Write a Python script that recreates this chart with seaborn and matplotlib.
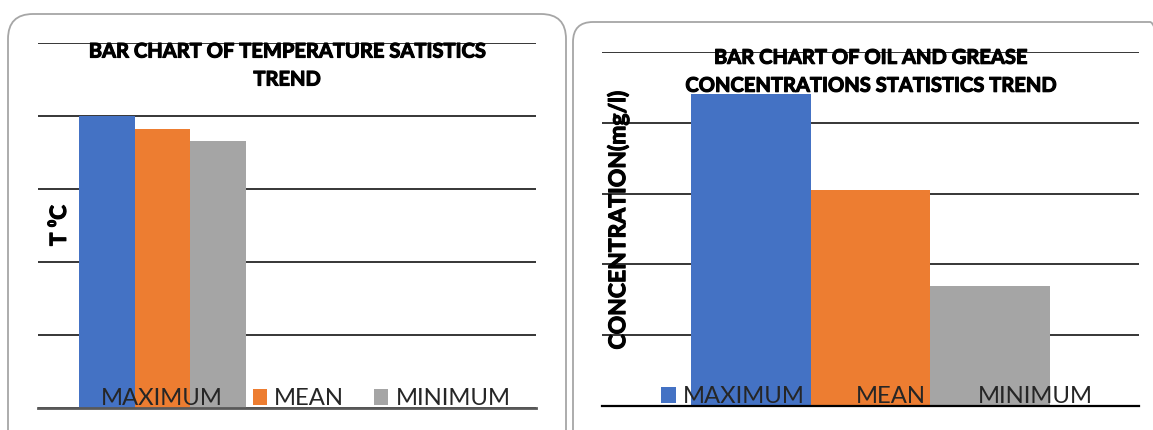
import numpy as np
import pandas as pd
import seaborn as sns
import matplotlib.pyplot as plt
import matplotlib.patheffects as pe
from matplotlib.patches import FancyBboxPatch, Patch
from matplotlib.transforms import IdentityTransform

# ---- data ----
stat_labels = ["MAXIMUM", "MEAN", "MINIMUM"]
bar_colors = ["#4472C4", "#ED7D31", "#A5A5A5"]

temp_values = [28.0, 26.75, 25.6]
temp_ticks = [0, 7, 14, 21, 28, 35]

oil_values = [4.41, 3.05, 1.69]
oil_ticks = [0, 1, 2, 3, 4, 5]

sns.set_theme(style="white")
plt.rcParams["font.family"] = ["Lato", "DejaVu Sans"]

W, H = 1153, 430
fig = plt.figure(figsize=(W / 100, H / 100), dpi=100)
fig.patch.set_facecolor("white")

# heavier strokes for the bold headings
heavy = [pe.withStroke(linewidth=0.8, foreground="black")]

# rounded chart-area frames
for x0, y0, x1, y1, r in [(8, -40, 566, 416, 25), (573, -40, 1170, 408, 20)]:
    frame = FancyBboxPatch((x0, y0), x1 - x0, y1 - y0,
                           boxstyle=f"round,pad=0,rounding_size={r}",
                           transform=IdentityTransform(), facecolor="none",
                           edgecolor="#a6a6a6", linewidth=1.3, zorder=0)
    fig.patches.append(frame)

ax1 = fig.add_axes([38 / W, 22 / H, 498 / W, 365 / H])
ax2 = fig.add_axes([602 / W, 24 / H, 537 / W, 354 / H])


def draw_panel(ax, group, values, ticks, n_slots, title, title_y, ylabel,
               ylab_xy, ylab_size, leg_x, base_color, base_width):
    df = pd.DataFrame({"group": [group] * len(values), "stat": stat_labels, "value": values})
    sns.barplot(data=df, x="group", y="value", hue="stat", hue_order=stat_labels,
                palette=bar_colors, saturation=1, width=0.667, linewidth=0,
                legend=False, ax=ax)
    ax.set_xlim(-0.5, n_slots - 0.5)
    ax.set_ylim(ticks[0], ticks[-1])
    ax.set_yticks(ticks)
    ax.set_axisbelow(True)
    ax.yaxis.grid(True, color="black", linewidth=1.1)
    ax.tick_params(left=False, labelleft=False, bottom=False, labelbottom=False)
    for s in ["left", "right", "top"]:
        ax.spines[s].set_visible(False)
    ax.spines["bottom"].set_color(base_color)
    ax.spines["bottom"].set_linewidth(base_width)
    ax.set_xlabel("")
    ax.set_ylabel("")
    ax.set_facecolor("none")

    ax.text(0.5, title_y, title, transform=ax.transAxes, ha="center", va="top",
            fontsize=14.5, fontweight="bold", color="black", linespacing=1.5,
            path_effects=heavy, zorder=6)
    ax.text(ylab_xy[0], ylab_xy[1], ylabel, transform=ax.transAxes, ha="center",
            va="center", rotation=90, fontsize=ylab_size, fontweight="bold",
            color="black", family=["Lato", "DejaVu Sans"], path_effects=heavy,
            zorder=6)

    handles = [Patch(facecolor=c, edgecolor="none", label=l)
               for c, l in zip(bar_colors, stat_labels)]
    leg = ax.legend(handles=handles, loc="lower center", bbox_to_anchor=(leg_x, -0.004),
                    ncol=3, frameon=False, fontsize=17.2, handlelength=0.6,
                    handleheight=0.6, handletextpad=0.3, columnspacing=1.25,
                    borderpad=0, borderaxespad=0)
    leg.set_zorder(7)


draw_panel(ax1, "Temperature", temp_values, temp_ticks, 2,
           "BAR CHART OF TEMPERATURE SATISTICS\nTREND", 1.004, "T \u2070C",
           (0.043, 0.5), 16, 0.516, "#595959", 2.0)
draw_panel(ax2, "Oil and grease", oil_values, oil_ticks, 1,
           "BAR CHART OF OIL AND GREASE\nCONCENTRATIONS STATISTICS TREND", 1.012,
           "CONCENTRATION(mg/l)", (0.030, 0.525), 16.5, 0.512, "black", 1.6)

fig.savefig("out.png", dpi=100)
